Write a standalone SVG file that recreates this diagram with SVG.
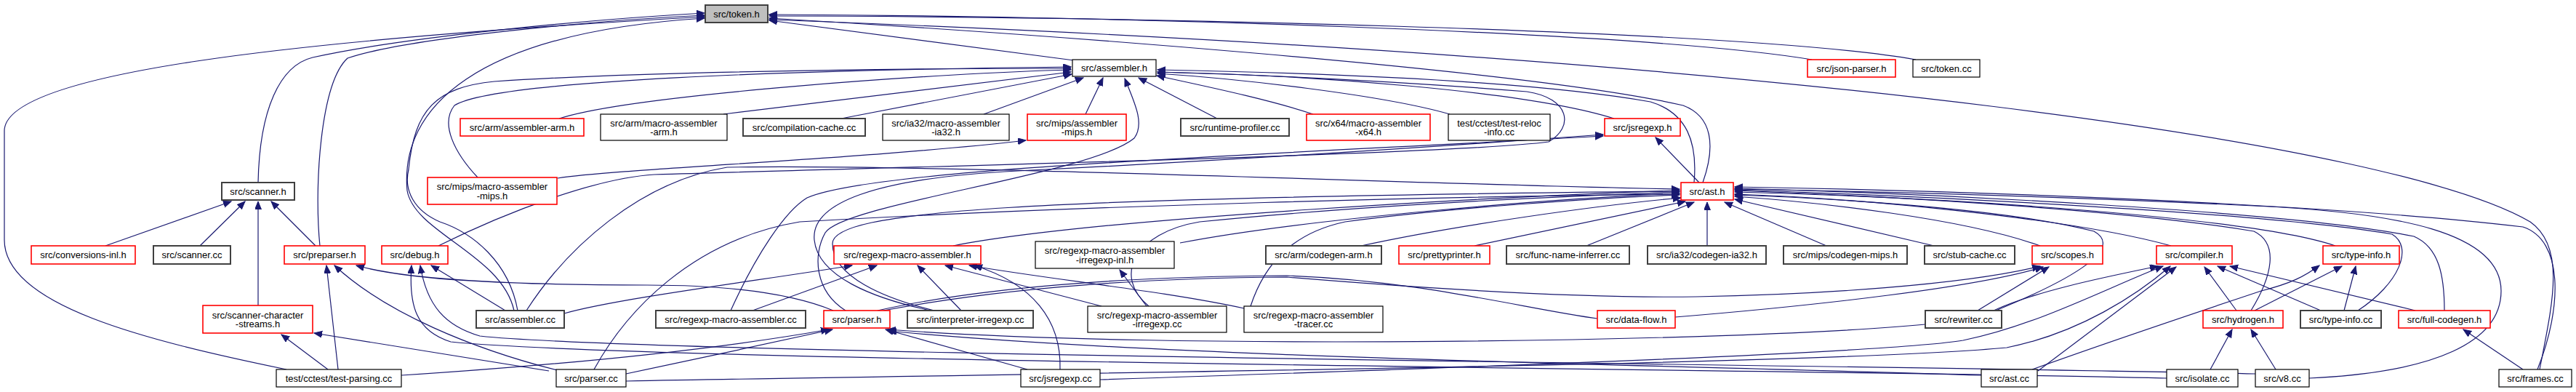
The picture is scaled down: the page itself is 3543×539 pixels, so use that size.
<svg xmlns="http://www.w3.org/2000/svg" width="3543" height="539" viewBox="0 0 3543 539">
<style>
rect{fill:#fff}
.r rect{stroke:#ff0000;stroke-width:1.6}
.g rect{stroke:#404040;stroke-width:2}
.b rect{stroke:#000;stroke-width:1.2}
.root rect{fill:#bfbfbf;stroke:#404040;stroke-width:2}
text{font-family:"Liberation Sans",Arial,sans-serif;font-size:13px;text-anchor:middle;fill:#000}
.e path{fill:none;stroke:#191970;stroke-width:1.2;marker-end:url(#a)}
.e path.na{marker-end:none}
</style>
<defs>
<marker id="a" markerUnits="userSpaceOnUse" markerWidth="12" markerHeight="10" refX="11" refY="4.5" orient="auto"><path d="M0,0 L11,4.5 L0,9 z" fill="#191970" stroke="#191970"/></marker>
</defs>
<rect x="0" y="0" width="3543" height="539" style="fill:#fff;stroke:none"/>
<g class="e" id="edges">
<path d="M355,251 C357,150 385,90 430,79 C560,50 820,26 969,18"/>
<path d="M440,338 C432,260 440,115 478,80 C560,52 820,28 969,21"/>
<path d="M394,508 C200,468 6,420 6,330 L6,180 C6,100 400,55 969,23"/>
<path d="M707,427 C690,350 570,320 560,262 C550,150 650,45 969,25"/>
<path d="M1477,83 L1058,28"/>
<path d="M2492,82 C2250,42 1500,22 1058,20"/>
<path d="M2635,82 C2400,40 1500,22 1058,22"/>
<path d="M2342,251 C2360,200 2355,160 2315,145 C2100,95 1400,45 1058,25"/>
<path d="M3493,508 C3510,420 3530,340 3480,305 C3300,200 2500,80 1058,27"/>
<path d="M769,163 C870,130 1300,100 1473,96"/>
<path d="M995,157 L1473,99"/>
<path d="M1157,163 L1474,102"/>
<path d="M1353,157 L1490,107"/>
<path d="M1493,157 L1517,107"/>
<path d="M1674,163 L1566,107"/>
<path d="M1806,157 C1740,135 1640,115 1591,104"/>
<path d="M1994,157 C1900,130 1700,108 1592,101"/>
<path d="M2220,163 C2100,125 1800,103 1592,99"/>
<path d="M2330,251 C2335,195 2320,155 2270,140 C2100,110 1800,100 1592,96"/>
<path d="M657,244 C625,210 605,170 625,145 C680,110 1100,96 1473,92"/>
<path d="M712,427 C700,360 650,320 605,305 C570,290 555,262 562,233 C570,150 600,120 680,112 C900,97 1300,94 1473,94"/>
<path d="M1163,427 C1120,400 1118,350 1135,320 C1160,280 1500,240 1560,190 C1575,170 1560,140 1547,108"/>
<path d="M603,338 C700,290 820,245 900,240 C1300,228 2000,212 2130,195 C2165,175 2160,135 2100,126 C1900,110 1700,102 1592,99"/>
<path d="M767,245 C850,232 1200,218 1411,193"/>
<path d="M2337,251 L2277,189"/>
<path d="M1005,427 C1040,350 1080,290 1110,272 C1200,232 1700,215 2205,187"/>
<path d="M1280,427 C1200,410 1125,380 1120,330 C1115,280 1200,245 1400,235 C1700,220 2000,200 2205,185"/>
<path d="M1311,338 C1500,300 2100,268 2310,262"/>
<path d="M1623,334 C1800,300 2150,272 2310,266"/>
<path d="M1580,421 C1530,380 1560,320 1650,305 C1900,280 2200,268 2310,264"/>
<path d="M1720,421 C1740,360 1780,320 1850,305 C2000,285 2200,272 2310,268"/>
<path d="M1872,338 C2000,310 2200,282 2312,272"/>
<path d="M2028,338 L2318,277"/>
<path d="M2182,338 L2330,278"/>
<path d="M2348,338 L2348,278"/>
<path d="M2512,338 L2372,278"/>
<path d="M2660,338 L2386,274"/>
<path d="M2806,338 C2700,300 2500,278 2386,270"/>
<path d="M2986,338 C2850,300 2550,272 2386,267"/>
<path d="M3212,338 C3100,300 2700,272 2386,264"/>
<path d="M3096,427 C3125,380 3135,335 3100,318 C2900,285 2550,268 2386,262"/>
<path d="M3243,427 C3300,390 3320,340 3290,322 C3100,290 2600,268 2386,261"/>
<path d="M3362,427 C3362,380 3355,340 3320,325 C3150,290 2650,266 2386,259"/>
<path d="M2745,427 C2860,380 2920,340 2880,318 C2750,285 2500,272 2386,268"/>
<path d="M3490,508 C3525,420 3525,330 3470,312 C3200,280 2700,262 2386,257"/>
<path d="M3176,520 C3350,512 3440,470 3440,400 C3440,320 3300,292 3100,283 C2800,268 2500,262 2386,260"/>
<path d="M724,427 C780,340 880,250 1000,230 C1300,225 2000,255 2310,260"/>
<path d="M1285,427 C1215,410 1145,380 1145,335 C1145,290 1400,272 2310,263"/>
<path d="M817,508 C860,430 950,330 1100,305 C1500,282 2000,270 2310,267"/>
<path d="M776,431 C850,410 1050,385 1172,365"/>
<path d="M1035,427 L1206,365"/>
<path d="M1322,427 L1262,365"/>
<path d="M1515,421 L1300,365"/>
<path d="M1711,424 C1600,400 1450,385 1333,365"/>
<path d="M1458,508 C1460,440 1420,390 1340,365"/>
<path d="M1577,421 L1540,371"/>
<path d="M145,338 L318,277"/>
<path d="M275,338 L337,277"/>
<path d="M355,420 L355,277"/>
<path d="M434,338 L373,277"/>
<path d="M465,508 L449,365"/>
<path d="M770,510 C650,480 530,430 460,365"/>
<path d="M1146,427 C1080,400 980,392 890,392 C700,392 560,385 490,365"/>
<path d="M451,508 L387,460"/>
<path d="M755,510 L432,458"/>
<path d="M695,427 L593,365"/>
<path d="M2980,520 C2500,508 900,498 620,470 C572,455 562,420 566,365"/>
<path d="M3102,514 C2600,502 900,488 660,462 C612,448 587,420 578,365"/>
<path d="M552,516 C800,500 1000,478 1140,453"/>
<path d="M861,514 C950,495 1060,472 1145,453"/>
<path d="M1413,508 L1218,453"/>
<path d="M2648,446 C2400,470 1600,482 1221,453"/>
<path d="M2725,516 C2300,502 1600,492 1222,455"/>
<path class="na" d="M1207,427 C1350,395 1550,380 1770,379 C1950,385 2100,425 2197,438"/>
<path d="M1215,427 C1400,392 1600,382 1770,381 C2000,400 2200,410 2333,408 C2500,405 2700,392 2806,366"/>
<path d="M2304,436 C2500,420 2720,395 2810,367"/>
<path d="M2720,427 L2818,367"/>
<path d="M3076,427 L3032,367"/>
<path d="M3192,427 L3050,366"/>
<path d="M3322,427 L3067,366"/>
<path d="M2803,510 L2993,367"/>
<path d="M2742,427 C2800,400 2900,380 2968,366"/>
<path d="M1513,522 C2000,506 2600,485 2700,468 C2800,448 2900,395 2975,366"/>
<path d="M861,524 C1500,512 2500,502 2760,478 C2860,458 2940,405 2985,366"/>
<path d="M3101,427 L3221,366"/>
<path d="M3224,427 L3240,366"/>
<path d="M2795,508 C2900,470 3050,420 3110,400 C3150,390 3170,380 3190,365"/>
<path d="M3040,508 L3070,453"/>
<path d="M3130,508 L3096,453"/>
<path d="M3470,508 L3388,453"/>
</g>
<g id="token_h" class="root"><rect x="970" y="7" width="86" height="24"/><text x="1013" y="23.5">src/token.h</text></g>
<g id="assembler_h" class="b"><rect x="1475" y="82" width="115" height="23"/><text x="1532.5" y="98">src/assembler.h</text></g>
<g id="json_parser_h" class="r"><rect x="2486" y="82" width="121" height="24"/><text x="2546.5" y="98.5">src/json-parser.h</text></g>
<g id="token_cc" class="b"><rect x="2631" y="82" width="92" height="24"/><text x="2677" y="98.5">src/token.cc</text></g>
<g id="arm_assembler_arm_h" class="r"><rect x="633" y="163" width="170" height="24"/><text x="718" y="179.5">src/arm/assembler-arm.h</text></g>
<g id="arm_macro_assembler_arm_h" class="b"><rect x="826" y="157" width="174" height="36"/><text x="913" y="173.7">src/arm/macro-assembler</text><text x="913" y="186.4">-arm.h</text></g>
<g id="compilation_cache_cc" class="g"><rect x="1022" y="163" width="168" height="24"/><text x="1106" y="179.5">src/compilation-cache.cc</text></g>
<g id="ia32_macro_assembler_ia32_h" class="b"><rect x="1214" y="157" width="174" height="36"/><text x="1301" y="173.7">src/ia32/macro-assembler</text><text x="1301" y="186.4">-ia32.h</text></g>
<g id="mips_assembler_mips_h" class="r"><rect x="1413" y="157" width="136" height="36"/><text x="1481" y="173.7">src/mips/assembler</text><text x="1481" y="186.4">-mips.h</text></g>
<g id="runtime_profiler_cc" class="g"><rect x="1624" y="163" width="149" height="24"/><text x="1698.5" y="179.5">src/runtime-profiler.cc</text></g>
<g id="x64_macro_assembler_x64_h" class="r"><rect x="1797" y="157" width="170" height="36"/><text x="1882" y="173.7">src/x64/macro-assembler</text><text x="1882" y="186.4">-x64.h</text></g>
<g id="test_reloc_info_cc" class="b"><rect x="1992" y="157" width="140" height="36"/><text x="2062" y="173.7">test/cctest/test-reloc</text><text x="2062" y="186.4">-info.cc</text></g>
<g id="jsregexp_h" class="r"><rect x="2207" y="163" width="104" height="24"/><text x="2259" y="179.5">src/jsregexp.h</text></g>
<g id="scanner_h" class="g"><rect x="305" y="251" width="100" height="24"/><text x="355" y="267.5">src/scanner.h</text></g>
<g id="mips_macro_assembler_mips_h" class="r"><rect x="588" y="244" width="178" height="37"/><text x="677" y="261.2">src/mips/macro-assembler</text><text x="677" y="274">-mips.h</text></g>
<g id="ast_h" class="r"><rect x="2312" y="251" width="72" height="24"/><text x="2348" y="267.5">src/ast.h</text></g>
<g id="conversions_inl_h" class="r"><rect x="43" y="338" width="143" height="25"/><text x="114.5" y="355">src/conversions-inl.h</text></g>
<g id="scanner_cc" class="g"><rect x="211" y="338" width="106" height="25"/><text x="264" y="355">src/scanner.cc</text></g>
<g id="preparser_h" class="r"><rect x="391" y="338" width="111" height="25"/><text x="446.5" y="355">src/preparser.h</text></g>
<g id="debug_h" class="r"><rect x="525" y="338" width="91" height="25"/><text x="570.5" y="355">src/debug.h</text></g>
<g id="regexp_macro_assembler_h" class="r"><rect x="1147" y="338" width="202" height="25"/><text x="1248" y="355">src/regexp-macro-assembler.h</text></g>
<g id="regexp_macro_assembler_irregexp_inl_h" class="b"><rect x="1424" y="332" width="191" height="37"/><text x="1519.5" y="349.2">src/regexp-macro-assembler</text><text x="1519.5" y="362">-irregexp-inl.h</text></g>
<g id="arm_codegen_arm_h" class="g"><rect x="1741" y="338" width="159" height="25"/><text x="1820.5" y="355">src/arm/codegen-arm.h</text></g>
<g id="prettyprinter_h" class="r"><rect x="1924" y="338" width="125" height="25"/><text x="1986.5" y="355">src/prettyprinter.h</text></g>
<g id="func_name_inferrer_cc" class="g"><rect x="2072" y="338" width="169" height="25"/><text x="2156.5" y="355">src/func-name-inferrer.cc</text></g>
<g id="ia32_codegen_ia32_h" class="g"><rect x="2266" y="338" width="163" height="25"/><text x="2347.5" y="355">src/ia32/codegen-ia32.h</text></g>
<g id="mips_codegen_mips_h" class="g"><rect x="2453" y="338" width="170" height="25"/><text x="2538" y="355">src/mips/codegen-mips.h</text></g>
<g id="stub_cache_cc" class="g"><rect x="2647" y="338" width="124" height="25"/><text x="2709" y="355">src/stub-cache.cc</text></g>
<g id="scopes_h" class="r"><rect x="2795" y="338" width="97" height="25"/><text x="2843.5" y="355">src/scopes.h</text></g>
<g id="compiler_h" class="r"><rect x="2966" y="338" width="104" height="25"/><text x="3018" y="355">src/compiler.h</text></g>
<g id="type_info_h" class="r"><rect x="3195" y="338" width="105" height="25"/><text x="3247.5" y="355">src/type-info.h</text></g>
<g id="scanner_character_streams_h" class="r"><rect x="279" y="420" width="151" height="38"/><text x="354.5" y="437.7">src/scanner-character</text><text x="354.5" y="450.4">-streams.h</text></g>
<g id="assembler_cc" class="g"><rect x="655" y="427" width="121" height="24"/><text x="715.5" y="443.5">src/assembler.cc</text></g>
<g id="regexp_macro_assembler_cc" class="g"><rect x="902" y="427" width="206" height="24"/><text x="1005" y="443.5">src/regexp-macro-assembler.cc</text></g>
<g id="parser_h" class="r"><rect x="1133" y="427" width="91" height="24"/><text x="1178.5" y="443.5">src/parser.h</text></g>
<g id="interpreter_irregexp_cc" class="g"><rect x="1248" y="427" width="173" height="24"/><text x="1334.5" y="443.5">src/interpreter-irregexp.cc</text></g>
<g id="regexp_macro_assembler_irregexp_cc" class="b"><rect x="1496" y="421" width="191" height="36"/><text x="1591.5" y="437.7">src/regexp-macro-assembler</text><text x="1591.5" y="450.4">-irregexp.cc</text></g>
<g id="regexp_macro_assembler_tracer_cc" class="b"><rect x="1711" y="421" width="191" height="36"/><text x="1806.5" y="437.7">src/regexp-macro-assembler</text><text x="1806.5" y="450.4">-tracer.cc</text></g>
<g id="data_flow_h" class="r"><rect x="2197" y="427" width="107" height="24"/><text x="2250.5" y="443.5">src/data-flow.h</text></g>
<g id="rewriter_cc" class="g"><rect x="2648" y="427" width="105" height="24"/><text x="2700.5" y="443.5">src/rewriter.cc</text></g>
<g id="hydrogen_h" class="r"><rect x="3030" y="427" width="110" height="24"/><text x="3085" y="443.5">src/hydrogen.h</text></g>
<g id="type_info_cc" class="g"><rect x="3164" y="427" width="111" height="24"/><text x="3219.5" y="443.5">src/type-info.cc</text></g>
<g id="full_codegen_h" class="r"><rect x="3299" y="427" width="126" height="24"/><text x="3362" y="443.5">src/full-codegen.h</text></g>
<g id="test_parsing_cc" class="b"><rect x="380" y="508" width="172" height="24"/><text x="466" y="524.5">test/cctest/test-parsing.cc</text></g>
<g id="parser_cc" class="b"><rect x="765" y="508" width="96" height="24"/><text x="813" y="524.5">src/parser.cc</text></g>
<g id="jsregexp_cc" class="b"><rect x="1404" y="508" width="109" height="24"/><text x="1458.5" y="524.5">src/jsregexp.cc</text></g>
<g id="ast_cc" class="b"><rect x="2725" y="508" width="77" height="24"/><text x="2763.5" y="524.5">src/ast.cc</text></g>
<g id="isolate_cc" class="b"><rect x="2980" y="508" width="98" height="24"/><text x="3029" y="524.5">src/isolate.cc</text></g>
<g id="v8_cc" class="b"><rect x="3102" y="508" width="74" height="24"/><text x="3139" y="524.5">src/v8.cc</text></g>
<g id="frames_cc" class="b"><rect x="3437" y="508" width="100" height="24"/><text x="3487" y="524.5">src/frames.cc</text></g>
</svg>
